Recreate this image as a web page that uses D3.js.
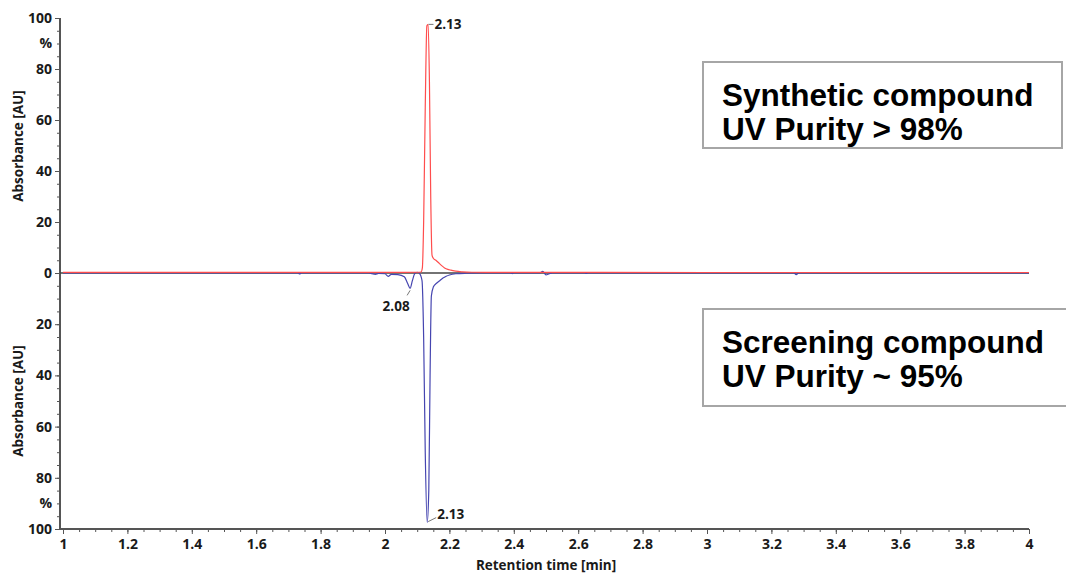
<!DOCTYPE html>
<html>
<head>
<meta charset="utf-8">
<script src="https://cdn.jsdelivr.net/npm/d3@7"></script>
<style>
  body { margin: 0; background: #fff; }
  .tick text { font-family: "Open Sans", sans-serif; font-weight: 700; font-size: 14px; fill: #1a1a1a; }
  .axis path, .axis line { stroke: #555; }
</style>
</head>
<body>
<svg id="chart" width="1066" height="575"></svg>
<script>
// synthetic compound trace (red, plotted upward), % of max
const redTime = [1.0, 1.5, 2.0, 2.1, 2.112, 2.116, 2.12, 2.125, 2.13, 2.134, 2.138, 2.142, 2.146, 2.15, 2.158, 2.165, 2.175, 2.185, 2.195, 2.205, 2.22, 2.24, 2.27, 2.35, 3.0, 4.0];
const redValue = [0.25, 0.25, 0.25, 0.3, 0.4, 2, 20, 65, 97, 97.5, 75, 30, 7, 5.8, 5, 4.2, 3, 2, 1.4, 1.1, 0.7, 0.45, 0.3, 0.25, 0.2, 0.2];

// screening compound trace (blue, plotted downward), % of max
const blueTime = [1.0, 1.73, 1.735, 1.74, 1.95, 1.96, 1.97, 1.98, 2.0, 2.01, 2.02, 2.04, 2.06, 2.07, 2.078, 2.085, 2.092, 2.1, 2.108, 2.115, 2.12, 2.125, 2.131, 2.136, 2.14, 2.144, 2.15, 2.16, 2.17, 2.18, 2.19, 2.2, 2.22, 2.25, 2.3, 2.39, 2.395, 2.4, 2.48, 2.49, 2.5, 2.51, 2.52, 2.62, 2.625, 2.63, 3.27, 3.277, 3.285, 4.0];
const blueValue = [0, 0, 0.4, 0, 0, 0.3, 0.5, 0.2, 0.3, 1.3, 0.5, 0.6, 1.5, 4, 6, 3, 0.3, -0.3, 0.3, 3, 25, 70, 97.5, 85, 40, 9, 5.5, 4, 3, 2, 1.3, 0.8, 0.3, 0.1, 0, 0, 0.3, 0, 0, -0.6, 0.7, 0.3, 0, 0, 0.2, 0, 0, 0.6, 0, 0];

const xTicks = [1, 1.2, 1.4, 1.6, 1.8, 2, 2.2, 2.4, 2.6, 2.8, 3, 3.2, 3.4, 3.6, 3.8, 4];
const yTicks = [0, 20, 40, 60, 80, 100];

// peak annotations
const peakLabels = ["2.13", "2.08", "2.13"];
const peakTime = [2.132, 2.078, 2.131];
const peakValue = [97.5, 6, 97.5];
const peakTrace = ["red", "blue", "blue"];

const boxLines = [["Synthetic compound", "UV Purity > 98%"], ["Screening compound", "UV Purity ~ 95%"]];

const svg = d3.select("#chart");

const x = d3.scaleLinear().domain([1, 4]).range([63, 1029]);
const yTop = d3.scaleLinear().domain([0, 100]).range([273, 18]);
const yBot = d3.scaleLinear().domain([0, 100]).range([273, 529]);

// minor y ticks
[yTop, yBot].forEach(s => {
  svg.append("g")
    .attr("class", "axis")
    .attr("transform", "translate(60,0)")
    .call(d3.axisLeft(s).tickValues(d3.range(0, 101, 5)).tickSize(3).tickFormat(""))
    .call(g => g.select(".domain").remove());
});

// major y ticks, "%" where 90 would be
svg.append("g")
  .attr("class", "axis")
  .attr("transform", "translate(60,0)")
  .call(d3.axisLeft(yTop).tickValues(yTicks).tickSize(5).tickPadding(3))
  .call(g => g.select(".domain").remove());
svg.append("g")
  .attr("class", "axis")
  .attr("transform", "translate(60,0)")
  .call(d3.axisLeft(yBot).tickValues(yTicks.filter(d => d > 0)).tickSize(5).tickPadding(3))
  .call(g => g.select(".domain").remove());
[yTop, yBot].forEach(s => {
  svg.append("text")
    .attr("x", 52).attr("y", s(90)).attr("dy", "0.35em")
    .attr("text-anchor", "end")
    .style("font-family", "Open Sans, sans-serif").style("font-weight", 700).style("font-size", "14px")
    .attr("fill", "#1a1a1a")
    .text("%");
});

// y axis line
svg.append("line")
  .attr("x1", 60).attr("x2", 60)
  .attr("y1", yTop(100)).attr("y2", yBot(100))
  .attr("stroke", "#555").attr("stroke-width", 2);

// x axis: minor then major
const xAxisG = svg.append("g").attr("transform", "translate(0," + yBot(100) + ")");
xAxisG.append("g")
  .attr("class", "axis")
  .call(d3.axisBottom(x).tickValues(d3.range(1, 4.001, 0.05)).tickSize(3).tickFormat(""))
  .call(g => g.select(".domain").remove());
xAxisG.append("g")
  .attr("class", "axis")
  .call(d3.axisBottom(x).tickValues(xTicks).tickSize(5).tickPadding(5).tickFormat(d3.format("~g")))
  .call(g => g.select(".domain").remove());
xAxisG.append("line")
  .attr("x1", 60).attr("x2", x(4))
  .attr("stroke", "#555").attr("stroke-width", 2);

// axis titles
const titleStyle = sel => sel
  .style("font-family", "Open Sans, sans-serif").style("font-weight", 700).style("font-size", "13.5px")
  .attr("fill", "#1a1a1a").attr("text-anchor", "middle");

svg.append("text").call(titleStyle)
  .attr("x", (x(1) + x(4)) / 2).attr("y", 570)
  .text("Retention time [min]");
svg.append("text").call(titleStyle)
  .attr("transform", "translate(23,146) rotate(-90)")
  .text("Absorbance [AU]");
svg.append("text").call(titleStyle)
  .attr("transform", "translate(23,401) rotate(-90)")
  .text("Absorbance [AU]");

// zero line
svg.append("line")
  .attr("x1", 60).attr("x2", x(4))
  .attr("y1", yTop(0)).attr("y2", yTop(0))
  .attr("stroke", "#444").attr("stroke-width", 1.5);

// traces
const redLine = d3.line()
  .x((d, i) => x(redTime[i]))
  .y(d => yTop(d))
  .curve(d3.curveMonotoneX);
const blueLine = d3.line()
  .x((d, i) => x(blueTime[i]))
  .y(d => yBot(d))
  .curve(d3.curveMonotoneX);

svg.append("path")
  .attr("d", blueLine(blueValue))
  .attr("fill", "none").attr("stroke", "#4545b0").attr("stroke-width", 1.2);
svg.append("path")
  .attr("d", redLine(redValue))
  .attr("fill", "none").attr("stroke", "#ff4d4d").attr("stroke-width", 1.2);

// peak labels
const labelFont = sel => sel
  .style("font-family", "Open Sans, sans-serif").style("font-weight", 700).style("font-size", "13.5px")
  .attr("fill", "#1a1a1a");

peakLabels.forEach((lab, i) => {
  const px = x(peakTime[i]);
  const py = peakTrace[i] === "red" ? yTop(peakValue[i]) : yBot(peakValue[i]);
  let lx1, ly1, lx2, ly2, tx, ty, anchor;
  if (peakTrace[i] === "red") {
    lx1 = px + 1; ly1 = py; lx2 = px + 6; ly2 = py;
    tx = px + 7; ty = py; anchor = "start";
  } else if (peakValue[i] > 50) {
    lx1 = px + 1; ly1 = py - 1; lx2 = px + 9; ly2 = py - 5;
    tx = px + 10; ty = py - 8; anchor = "start";
  } else {
    lx1 = px; ly1 = py + 2; lx2 = px - 3; ly2 = py + 7;
    tx = px - 14; ty = py + 18; anchor = "middle";
  }
  svg.append("line")
    .attr("x1", lx1).attr("y1", ly1).attr("x2", lx2).attr("y2", ly2)
    .attr("stroke", "#777").attr("stroke-width", 1);
  svg.append("text").call(labelFont)
    .attr("x", tx).attr("y", ty).attr("dy", "0.35em")
    .attr("text-anchor", anchor)
    .text(lab);
});

// annotation boxes
const boxes = [{ x: 703, y: 62, w: 359, h: 86 }, { x: 703, y: 309, w: 370, h: 97 }];
const boxBaseline = [44, 44];
boxes.forEach((b, i) => {
  svg.append("rect")
    .attr("x", b.x).attr("y", b.y).attr("width", b.w).attr("height", b.h)
    .attr("fill", "#fff").attr("stroke", "#a6a6a6").attr("stroke-width", 2);
  const t = svg.append("text")
    .style("font-family", "Liberation Sans, Arial, sans-serif").style("font-weight", 700).style("font-size", "31.5px")
    .attr("fill", "#000");
  boxLines[i].forEach((s, j) => {
    t.append("tspan")
      .attr("x", b.x + 19)
      .attr("y", b.y + boxBaseline[i] + j * 34)
      .text(s);
  });
});
</script>
</body>
</html>
